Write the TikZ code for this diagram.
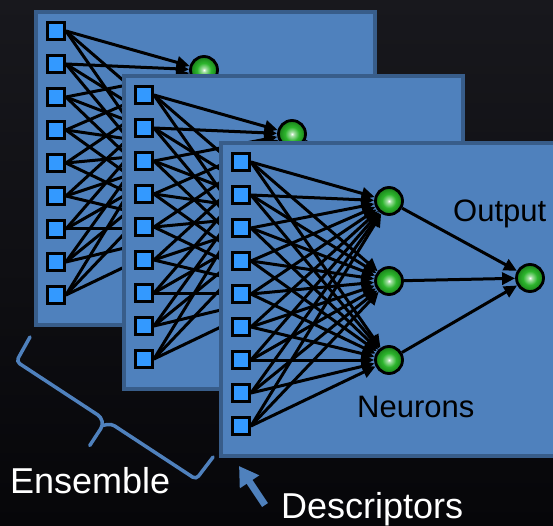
\documentclass[tikz,border=0pt]{standalone}
\usepackage{fontspec}
\setmainfont{Liberation Sans}
\usetikzlibrary{arrows.meta}
\definecolor{bgtop}{HTML}{18181D}
\definecolor{bgbot}{HTML}{060609}
\definecolor{panelfill}{HTML}{4F81BD}
\definecolor{paneledge}{HTML}{385D8A}
\definecolor{sq}{HTML}{3399FF}
\definecolor{ngreen}{HTML}{2DB52D}
\definecolor{ndark}{HTML}{1C861C}
\definecolor{accent}{HTML}{4F81BD}
\pgfdeclareradialshading{neuronshade}{\pgfpoint{0bp}{0bp}}{color(0bp)=(white); color(4bp)=(white!55!ngreen); color(13bp)=(ngreen); color(23bp)=(ndark); color(50bp)=(ndark)}
\tikzset{
  panel/.style={draw=paneledge, line width=4pt, fill=panelfill, inner sep=0pt, anchor=north west},
  inp/.style={draw=black, line width=2.8pt, fill=sq, minimum size=17pt, inner sep=0pt},
  neuron/.style={circle, draw=black, line width=2.8pt, shade, shading=neuronshade, minimum size=27pt, inner sep=0pt},
  conn/.style={line width=3pt, -{Triangle[length=13pt,width=12pt]}},
  lbl/.style={font=\fontsize{31pt}{31pt}\selectfont, text=black, inner sep=0pt},
  biglbl/.style={font=\fontsize{36pt}{36pt}\selectfont, text=white, inner sep=0pt},
  bracepath/.style={draw=accent, line width=3.5pt, rounded corners=4pt, line cap=round},
  pointer/.style={draw=accent, line width=7pt, -{Triangle[length=19pt,width=22pt]}},
}
\newcommand{\netpanel}[3]{%
  \begin{scope}[shift={(#2,#3)}]
    \node[panel, minimum width=339pt, minimum height=313pt] (#1p) at (2,2) {};
    \foreach \i in {1,...,9} {
      \node[inp] (#1s\i) at (24,{23+33*(\i-1)}) {};
    }
    \node[neuron] (#1h1) at (172,62) {};
    \node[neuron] (#1h2) at (172,142) {};
    \node[neuron] (#1h3) at (172,221) {};
    \node[neuron] (#1o) at (313,139) {};
    \foreach \i in {1,...,9} {
      \foreach \j in {1,2,3} {
        \draw[conn] (#1s\i.east) -- (#1h\j);
      }
    }
    \foreach \j in {1,2,3} {
      \draw[conn] (#1h\j) -- (#1o);
    }
  \end{scope}%
}
\begin{document}
\begin{tikzpicture}[x=1pt,y=-1pt]
\useasboundingbox (0,0) rectangle (553,526);
\shade[top color=bgtop, bottom color=bgbot] (0,0) rectangle (553,526);
\clip (0,0) rectangle (553,526);
\netpanel{A}{32}{8}
\netpanel{B}{120}{72}
\netpanel{C}{217}{139}
\node[lbl, anchor=base west] (outlbl) at (453,222) {Output};
\node[lbl, anchor=base west] (neulbl) at (357,417) {Neurons};
\node[biglbl, anchor=base west] (enslbl) at (10,493) {Ensemble};
\node[biglbl, anchor=base west] (deslbl) at (281,518) {Descriptors};
% brace
\begin{scope}[shift={(30,337)}, x={(0.836pt,-0.548pt)}, y={(-0.548pt,-0.836pt)}]
  \draw[bracepath] (0,0) -- (2,28) -- (103.5,28) -- (109.5,34) -- (109.5,58);
  \draw[bracepath] (219,0) -- (217,28) -- (115.5,28) -- (109.5,34);
\end{scope}
% pointer arrow
\coordinate (ptail) at (265,505);
\coordinate (ptip) at (239,466);
\draw[pointer] (ptail) -- (ptip);
\end{tikzpicture}
\end{document}
